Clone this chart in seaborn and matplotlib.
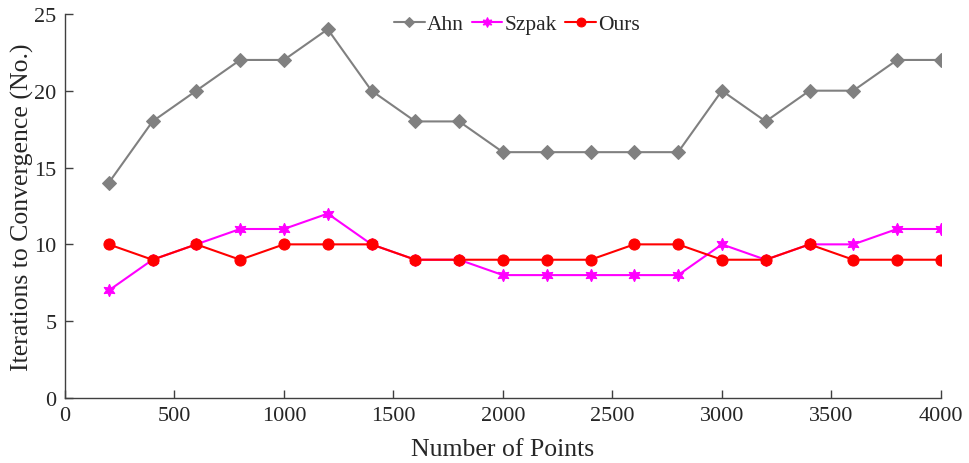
import numpy as np
import pandas as pd
import matplotlib
matplotlib.use("Agg")
import matplotlib.pyplot as plt
import seaborn as sns

points = list(range(200, 4001, 200))
ahn = [14, 18, 20, 22, 22, 24, 20, 18, 18, 16, 16, 16, 16, 16, 20, 18, 20, 20, 22, 22]
szpak = [7, 9, 10, 11, 11, 12, 10, 9, 9, 8, 8, 8, 8, 8, 10, 9, 10, 10, 11, 11]
ours = [10, 9, 10, 9, 10, 10, 10, 9, 9, 9, 9, 9, 10, 10, 9, 9, 10, 9, 9, 9]
methods = ["Ahn", "Szpak", "Ours"]

df = pd.DataFrame({
    "Number of Points": points * 3,
    "Iterations": ahn + szpak + ours,
    "Method": ["Ahn"] * len(points) + ["Szpak"] * len(points) + ["Ours"] * len(points),
})

sns.set_style("white")
plt.rcParams['font.family'] = ['Liberation Serif', 'DejaVu Serif']

fig = plt.figure(figsize=(9.69, 4.64), dpi=100)
ax = fig.add_axes([0.067, 0.140, 0.904, 0.828])

palette = {"Ahn": "#808080", "Szpak": "#ff00ff", "Ours": "#ff0000"}
markers = {"Ahn": "D", "Szpak": (6, 1, 0), "Ours": "o"}
sizes = {"Ahn": 7, "Szpak": 9, "Ours": 8}

for m in methods:
    sub = df[df["Method"] == m]
    sns.lineplot(data=sub, x="Number of Points", y="Iterations", ax=ax,
                 color=palette[m], marker=markers[m], markersize=sizes[m],
                 markeredgecolor=palette[m], linewidth=1.5, label=m)

ax.set_xlim(0, 4000)
ax.set_ylim(0, 25)
ax.set_xticks(range(0, 4001, 500))
ax.set_yticks(range(0, 26, 5))
ax.set_xlabel("Number of Points", fontsize=18.5, color="#262626", labelpad=9)
ax.set_ylabel("Iterations to Convergence (No.)", fontsize=18.5, color="#262626", labelpad=0)
ax.tick_params(axis="both", direction="in", length=6, width=1, colors="#404040",
               labelsize=16, labelcolor="#262626", left=True, bottom=True, pad=6)
for s in ["top", "right"]:
    ax.spines[s].set_visible(False)
for s in ["left", "bottom"]:
    ax.spines[s].set_color("#404040")
    ax.spines[s].set_linewidth(1)

leg = ax.legend(loc="upper center", ncol=3, frameon=False, fontsize=15.5,
                handlelength=1.4, columnspacing=0.4, handletextpad=0.1,
                markerscale=0.8, bbox_to_anchor=(0.516, 1.05))

fig.savefig("out.png", dpi=100)
